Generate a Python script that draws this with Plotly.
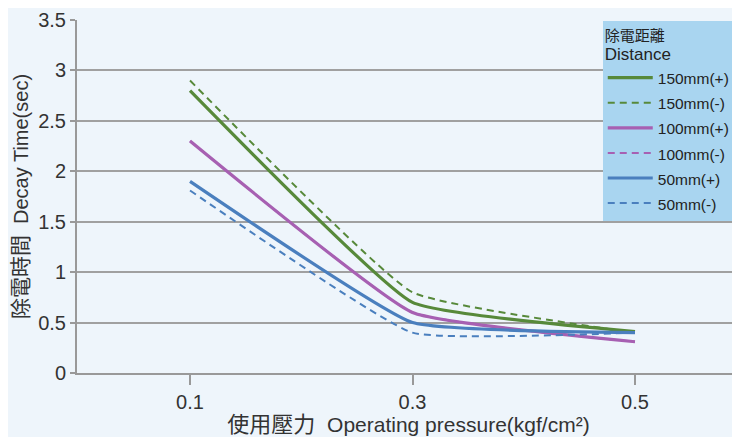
import plotly.graph_objects as go

pressure = [0.1, 0.3, 0.5]
series_names = ["150mm(+)", "150mm(-)", "100mm(+)", "100mm(-)", "50mm(+)", "50mm(-)"]
v150p = [2.80, 0.70, 0.41]
v150m = [2.90, 0.80, 0.40]
v100p = [2.30, 0.60, 0.31]
v100m = [2.30, 0.60, 0.31]
v50p = [1.90, 0.50, 0.40]
v50m = [1.81, 0.40, 0.40]
series_values = [v150p, v150m, v100p, v100m, v50p, v50m]
series_colors = ["#57893a", "#57893a", "#a760b2", "#a760b2", "#4a7fbe", "#4a7fbe"]
series_dash = ["solid", "7px,5px", "solid", "7px,5px", "solid", "7px,5px"]
series_width = [3.2, 2, 3.2, 2, 3.2, 2]

xticks = [0.1, 0.3, 0.5]
xticklabels = ["0.1", "0.3", "0.5"]
yticks = [0, 0.5, 1, 1.5, 2, 2.5, 3, 3.5]
yticklabels = ["0", "0.5", "1", "1.5", "2", "2.5", "3", "3.5"]

fig = go.Figure()
for i in range(6):
    fig.add_trace(go.Scatter(
        x=pressure, y=series_values[i],
        name="<span style='font-size:15.5px'>" + series_names[i] + "</span>",
        mode="lines",
        line=dict(color=series_colors[i], dash=series_dash[i], width=series_width[i],
                  shape="spline", smoothing=0.35),
    ))

font_family = "Liberation Sans, Arial, Noto Sans CJK TC, sans-serif"
fig.update_layout(
    width=732, height=429,
    margin=dict(l=69, r=0, t=12, b=64),
    paper_bgcolor="#eef5fb", plot_bgcolor="#eef5fb",
    font=dict(family=font_family, color="#333333"),
    showlegend=True,
    legend=dict(
        x=0.793, y=0.997, xanchor="left", yanchor="top",
        bgcolor="#a9d5f0", borderwidth=0,
        font=dict(size=17, color="#222222"),
        itemwidth=45,
        title=dict(text="<span style='font-size:15px'>除電距離</span><br><span style='font-size:17px'>Distance</span>",
                   font=dict(size=15, color="#222222")),
        tracegroupgap=0,
    ),
    xaxis=dict(
        range=[-0.0016, 0.5944], tickvals=xticks, ticktext=xticklabels,
        showgrid=False, zeroline=False, showline=True, linecolor="#999999", linewidth=2,
        ticks="outside", ticklen=10, tickwidth=2, tickcolor="#999999",
        tickfont=dict(size=20, color="#333333"),
        title=dict(text="<span style='font-size:22px'>使用壓力</span>  Operating pressure(kgf/cm²)",
                   font=dict(size=21, color="#333333"), standoff=0),
    ),
    yaxis=dict(
        range=[0, 3.5], tickvals=yticks, ticktext=yticklabels,
        showgrid=True, gridcolor="#a0a0a0", gridwidth=2, zeroline=False,
        showline=True, linecolor="#999999", linewidth=2,
        ticks="outside", ticklen=5, tickwidth=2, tickcolor="#999999",
        tickfont=dict(size=20, color="#333333"),
        title=dict(text="<span style='font-size:21px'>除電時間</span>  Decay Time(sec)",
                   font=dict(size=20, color="#333333"), standoff=4),
    ),
)
fig.write_html("out.html")
